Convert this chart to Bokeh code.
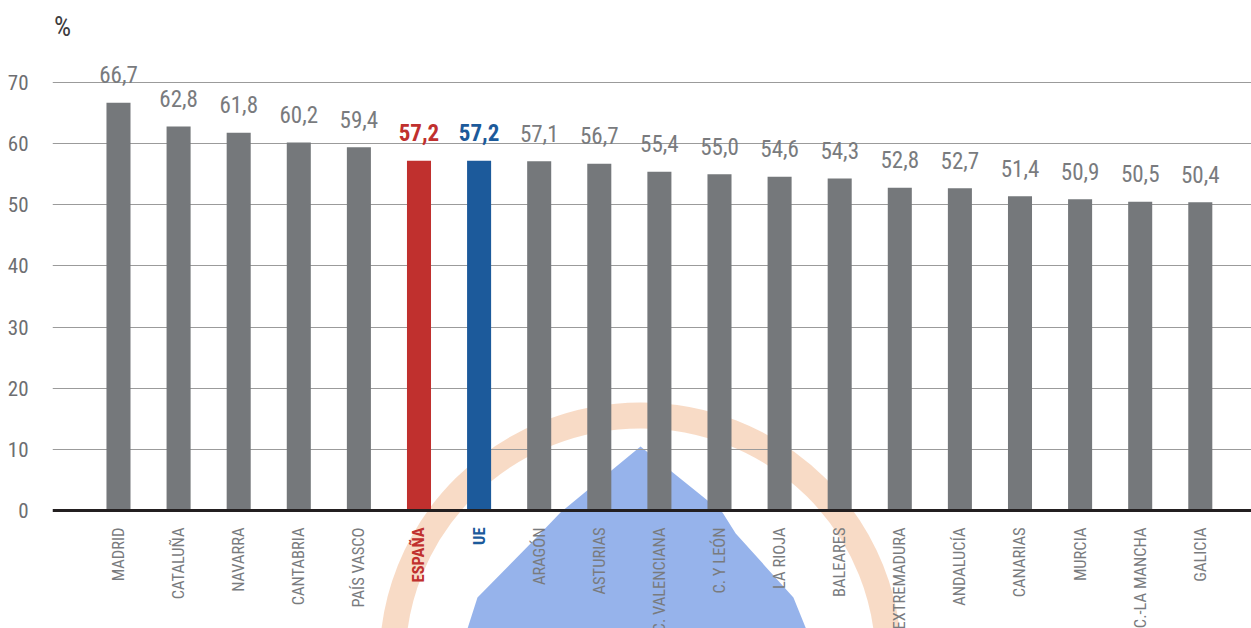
import math
from bokeh.plotting import figure
from bokeh.models import Range1d, FixedTicker, Span, ColumnDataSource
from bokeh.core.properties import value
from bokeh.embed import file_html
from bokeh.resources import INLINE

# ---------------- data ----------------
regions = ["MADRID", "CATALUÑA", "NAVARRA", "CANTABRIA", "PAÍS VASCO", "ESPAÑA", "UE",
           "ARAGÓN", "ASTURIAS", "C. VALENCIANA", "C. Y LEÓN", "LA RIOJA", "BALEARES",
           "EXTREMADURA", "ANDALUCÍA", "CANARIAS", "MURCIA", "C.-LA MANCHA", "GALICIA"]
values = [66.7, 62.8, 61.8, 60.2, 59.4, 57.2, 57.2, 57.1, 56.7, 55.4, 55.0, 54.6, 54.3,
          52.8, 52.7, 51.4, 50.9, 50.5, 50.4]
y_ticks = [0, 10, 20, 30, 40, 50, 60, 70]
unit_label = "%"

# ---------------- styles ----------------
GRAY_BAR = "#75787b"
RED = "#c0302e"
BLUE = "#1c5a9b"
TXT_GRAY = "#797b7e"
FONT = "Roboto Condensed"

highlight = {"ESPAÑA": RED, "UE": BLUE}
bar_colors = [highlight.get(r, GRAY_BAR) for r in regions]
label_colors = [highlight.get(r, TXT_GRAY) for r in regions]
label_styles = ["bold" if r in highlight else "normal" for r in regions]

idx = list(range(len(regions)))
src = ColumnDataSource(dict(
    x=idx, top=values, region=regions,
    vlabel=[f"{v:.1f}".replace(".", ",") for v in values],
    bcolor=bar_colors, lcolor=label_colors, lstyle=label_styles,
    zero=[0] * len(regions),
))

p = figure(width=1251, height=628, output_backend="svg", toolbar_location=None,
           x_range=Range1d(-1.098, 18.852), y_range=Range1d(-19.30, 83.41),
           x_axis_type=None, min_border_left=52, min_border_right=0,
           min_border_top=0, min_border_bottom=0)
p.outline_line_color = None
p.background_fill_color = "white"

# watermark (decorative logo behind the chart)
wm_ring = dict(x=[8.686], y=[-24.5])
wm_shape_x = [8.686, 10.05, 10.27, 11.23, 11.55, 5.72, 5.973, 7.02, 7.354]
wm_shape_y = [10.47, -0.33, -3.76, -14.23, -22.0, -22.0, -14.23, -3.76, -0.33]
r1 = p.ellipse(x=wm_ring["x"], y=wm_ring["y"], width=496, height=490,
               width_units="screen", height_units="screen",
               fill_color=None, line_color="#f3c3a0", line_alpha=0.6, line_width=26)
r1.level = "image"
r2 = p.patch(wm_shape_x, wm_shape_y, fill_color="#84a6e8", fill_alpha=0.85, line_color=None)
r2.level = "image"

# y axis and grid
p.yaxis.ticker = FixedTicker(ticks=y_ticks)
p.yaxis.axis_line_color = None
p.yaxis.major_tick_line_color = None
p.yaxis.minor_tick_line_color = None
p.yaxis.major_tick_out = 0
p.yaxis.major_label_standoff = 24
p.yaxis.major_label_text_font = FONT
p.yaxis.major_label_text_font_size = "21px"
p.yaxis.major_label_text_color = "#6d6e71"
p.ygrid.ticker = FixedTicker(ticks=[t for t in y_ticks if t != 0])
p.ygrid.grid_line_color = "#9b9b9b"
p.ygrid.grid_line_width = 1
p.xgrid.grid_line_color = None

# bars
p.vbar(x="x", top="top", width=0.4, bottom=0, fill_color="bcolor", line_color=None, source=src)

# zero axis line
p.add_layout(Span(location=0, dimension="width", line_color="#231f20", line_width=3))

# value labels
p.text(x="x", y="top", text="vlabel", source=src, text_align="center",
       text_baseline="alphabetic", y_offset=-28, text_font=value(FONT),
       text_font_size="23px", text_color="lcolor", text_font_style="lstyle")

# category labels (rotated)
p.text(x="x", y="zero", text="region", source=src, angle=math.pi / 2,
       text_align="right", text_baseline="middle", y_offset=17,
       text_font=value(FONT), text_font_size="16.5px", text_color="lcolor",
       text_font_style="lstyle")

# unit label
p.text(x=[-0.93], y=[79.0], text=[unit_label], text_align="center", text_baseline="middle",
       text_font=value(FONT), text_font_size="27px", text_color="#3c3c3e")

open("out.html", "w").write(file_html(p, INLINE))
